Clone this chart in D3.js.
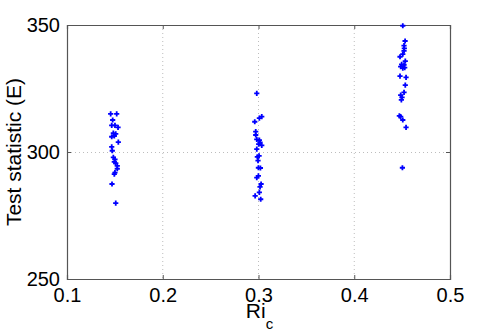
<!DOCTYPE html>
<html lang="en">
<head>
<meta charset="utf-8">
<title>Test statistic vs Ri_c</title>
<script src="https://cdn.jsdelivr.net/npm/d3@7"></script>
<style>
  body { margin: 0; background: #fff; }
  text { font-family: "Liberation Sans", Arial, sans-serif; }
</style>
</head>
<body>
<div id="chart"></div>
<script>
// values, one group per Ri_c value
var xGroup1 = [0.1456, 0.1519, 0.1477, 0.1467, 0.1501, 0.1533, 0.1484, 0.1509, 0.1467, 0.1494, 0.1536, 0.1467, 0.1473, 0.1484, 0.1501, 0.1494, 0.1509, 0.1525, 0.1525, 0.1501, 0.1494, 0.147, 0.1509];
var yGroup1 = [315.0, 315.0, 312.6, 310.5, 310.5, 309.7, 307.4, 307.1, 306.0, 306.3, 303.9, 302.0, 300.5, 297.9, 297.1, 296.1, 295.6, 294.5, 293.4, 291.9, 291.3, 287.4, 279.9];
var xGroup2 = [0.2982, 0.3034, 0.3009, 0.2961, 0.2971, 0.2971, 0.2982, 0.3009, 0.3016, 0.3002, 0.3034, 0.2982, 0.3006, 0.2988, 0.2995, 0.2999, 0.302, 0.2999, 0.2982, 0.3027, 0.3016, 0.3009, 0.2965, 0.3023];
var yGroup2 = [323.1, 313.9, 313.3, 311.9, 308.0, 306.7, 305.0, 304.7, 303.8, 303.1, 302.6, 301.1, 298.5, 298.1, 296.6, 293.8, 293.7, 290.6, 289.9, 287.4, 286.3, 284.1, 282.7, 281.4];
var xGroup3 = [0.4507, 0.4531, 0.452, 0.4523, 0.452, 0.4507, 0.4478, 0.4533, 0.4495, 0.452, 0.4485, 0.4527, 0.4507, 0.4478, 0.4541, 0.4533, 0.452, 0.4485, 0.4499, 0.4492, 0.4471, 0.4485, 0.4507, 0.4541, 0.4503];
var yGroup3 = [349.7, 343.7, 341.9, 340.8, 339.8, 338.5, 337.5, 335.8, 334.5, 334.3, 333.6, 333.2, 333.0, 329.9, 329.4, 326.3, 323.5, 322.4, 321.5, 320.5, 314.2, 313.9, 312.6, 309.7, 293.8];
var xTicks = [0.1, 0.2, 0.3, 0.4, 0.5];
var yTicks = [250, 300, 350];

var W = 498, H = 332;
var margin = { left: 67, right: 48, top: 25, bottom: 53 };
var iw = W - margin.left - margin.right;
var ih = H - margin.top - margin.bottom;

var svg = d3.select("#chart").append("svg").attr("width", W).attr("height", H);
var g = svg.append("g").attr("transform", "translate(" + margin.left + "," + margin.top + ")");

var x = d3.scaleLinear().domain([0.1, 0.5]).range([0, iw]);
var y = d3.scaleLinear().domain([250, 350]).range([ih, 0]);

// dotted grid
g.selectAll(".gx").data(xTicks.slice(1, -1)).enter().append("line")
  .attr("x1", function (d) { return x(d); }).attr("x2", function (d) { return x(d); })
  .attr("y1", 0).attr("y2", ih)
  .attr("stroke", "#bdbdbd").attr("stroke-width", 1).attr("stroke-dasharray", "1,3");
g.selectAll(".gy").data(yTicks.slice(1, -1)).enter().append("line")
  .attr("y1", function (d) { return y(d) + 0.5; }).attr("y2", function (d) { return y(d) + 0.5; })
  .attr("x1", 0).attr("x2", iw)
  .attr("stroke", "#bdbdbd").attr("stroke-width", 1).attr("stroke-dasharray", "1,3");

// axes, matlab style: ticks inside, labels outside, box all round
var xAxis = g.append("g").attr("transform", "translate(0," + ih + ")")
  .call(d3.axisBottom(x).tickValues(xTicks).tickSize(-4).tickPadding(9).tickFormat(d3.format(".1f")));
var xTop = g.append("g")
  .call(d3.axisTop(x).tickValues(xTicks).tickSize(-4).tickFormat(""));
var yAxis = g.append("g")
  .call(d3.axisLeft(y).tickValues(yTicks).tickSize(-4).tickPadding(7));
var yRight = g.append("g").attr("transform", "translate(" + iw + ",0)")
  .call(d3.axisRight(y).tickValues(yTicks).tickSize(-4).tickFormat(""));

[xAxis, xTop, yAxis, yRight].forEach(function (a) {
  a.select(".domain").attr("stroke", "#555").attr("stroke-width", 1.2);
  a.selectAll(".tick line").attr("stroke", "#555");
  a.selectAll("text").attr("fill", "#000").attr("font-size", 20)
    .attr("font-family", "Liberation Sans, Arial, sans-serif");
});
xAxis.selectAll("text").attr("dy", "0.71em");

// markers
function plus(sel, xs, ys) {
  var pts = xs.map(function (v, i) { return [v, ys[i]]; });
  sel.selectAll(null).data(pts).enter().append("path")
    .attr("d", function (d) {
      var px = x(d[0]), py = y(d[1]), r = 2.6;
      return "M" + (px - r) + "," + py + "H" + (px + r) + "M" + px + "," + (py - r) + "V" + (py + r);
    })
    .attr("stroke", "#0000ff").attr("stroke-width", 1.8).attr("fill", "none");
}
var marks = g.append("g");
plus(marks, xGroup1, yGroup1);
plus(marks, xGroup2, yGroup2);
plus(marks, xGroup3, yGroup3);

// labels
svg.append("text")
  .attr("transform", "translate(21," + (margin.top + ih / 2) + ") rotate(-90)")
  .attr("text-anchor", "middle").attr("font-size", 21).attr("fill", "#000")
  .text("Test statistic (E)");

var xl = svg.append("text")
  .attr("x", margin.left + iw / 2 + 1).attr("y", 318)
  .attr("text-anchor", "middle").attr("font-size", 21).attr("fill", "#000");
xl.append("tspan").text("Ri");
xl.append("tspan").attr("font-size", 15).attr("dy", 11).text("c");
</script>
</body>
</html>
